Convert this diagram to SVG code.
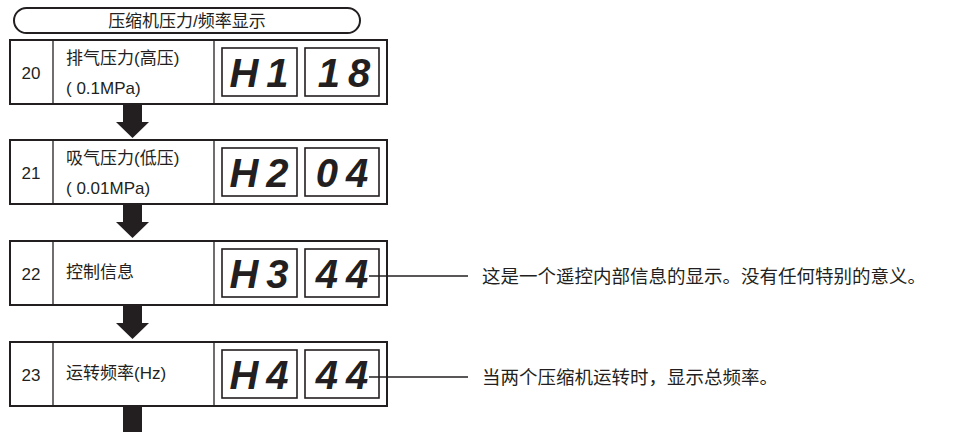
<svg xmlns="http://www.w3.org/2000/svg" width="956" height="432" viewBox="0 0 956 432">
<style>
.box{fill:#fff;stroke:#231f20;stroke-width:2}
.disp{fill:#fff;stroke:#231f20;stroke-width:1.6}
.t{font-family:"Liberation Sans","Noto Sans CJK SC",sans-serif;font-size:17px;fill:#231f20}
.r{font-size:18.5px}
.seg{font-family:"Liberation Sans",sans-serif;font-weight:bold;font-style:italic;font-size:40px;letter-spacing:8px;fill:#231f20}
.arr{fill:#231f20}
.ln{stroke:#231f20;stroke-width:1.3;fill:none}
</style>
<rect x="14" y="8" width="346" height="25" rx="12.5" class="box"/>
<text x="187" y="27" text-anchor="middle" class="t">压缩机压力/频率显示</text>
<g id="n20">
<rect x="10" y="40" width="377" height="64" class="box"/>
<line x1="53" y1="40" x2="53" y2="104" class="ln" stroke-width="2"/>
<line x1="214" y1="40" x2="214" y2="104" class="ln" stroke-width="2"/>
<text x="31" y="79" text-anchor="middle" class="t">20</text>
<text x="66" y="64" class="t">排气压力(高压)</text>
<text x="66" y="94" class="t">( 0.1MPa)</text>
<rect x="222" y="48" width="75" height="48" class="disp"/><rect x="305" y="48" width="74" height="48" class="disp"/>
<text x="263" y="87" text-anchor="middle" class="seg">H1</text>
<text x="348" y="87" text-anchor="middle" class="seg">18</text>
</g>
<g id="n21">
<rect x="10" y="140" width="377" height="64" class="box"/>
<line x1="53" y1="140" x2="53" y2="204" class="ln" stroke-width="2"/>
<line x1="214" y1="140" x2="214" y2="204" class="ln" stroke-width="2"/>
<text x="31" y="179" text-anchor="middle" class="t">21</text>
<text x="66" y="164" class="t">吸气压力(低压)</text>
<text x="66" y="194" class="t">( 0.01MPa)</text>
<rect x="222" y="148" width="75" height="48" class="disp"/><rect x="305" y="148" width="74" height="48" class="disp"/>
<text x="263" y="187" text-anchor="middle" class="seg">H2</text>
<text x="346" y="187" text-anchor="middle" class="seg">04</text>
</g>
<g id="n22">
<rect x="10" y="241" width="377" height="64" class="box"/>
<line x1="53" y1="241" x2="53" y2="305" class="ln" stroke-width="2"/>
<line x1="214" y1="241" x2="214" y2="305" class="ln" stroke-width="2"/>
<text x="31" y="280" text-anchor="middle" class="t">22</text>
<text x="66" y="278" class="t">控制信息</text>
<rect x="222" y="249" width="75" height="48" class="disp"/><rect x="305" y="249" width="74" height="48" class="disp"/>
<text x="263" y="288" text-anchor="middle" class="seg">H3</text>
<text x="346" y="288" text-anchor="middle" class="seg">44</text>
</g>
<g id="n23">
<rect x="10" y="342" width="377" height="64" class="box"/>
<line x1="53" y1="342" x2="53" y2="406" class="ln" stroke-width="2"/>
<line x1="214" y1="342" x2="214" y2="406" class="ln" stroke-width="2"/>
<text x="31" y="381" text-anchor="middle" class="t">23</text>
<text x="66" y="379" class="t">运转频率(Hz)</text>
<rect x="222" y="350" width="75" height="48" class="disp"/><rect x="305" y="350" width="74" height="48" class="disp"/>
<text x="263" y="389" text-anchor="middle" class="seg">H4</text>
<text x="346" y="389" text-anchor="middle" class="seg">44</text>
</g>
<g id="connectors">
<polygon class="arr" points="123,105 142,105 142,122 149,122 132.5,138 116,122 123,122"/>
<polygon class="arr" points="123,205 142,205 142,222 149,222 132.5,238 116,222 123,222"/>
<polygon class="arr" points="123,306 142,306 142,323 149,323 132.5,339 116,323 123,323"/>
<polygon class="arr" points="123,407 142,407 142,432 123,432"/>
<line class="ln" x1="369" y1="276" x2="468" y2="276"/>
<line class="ln" x1="369" y1="377" x2="468" y2="377"/>
</g>
<text x="482" y="283" class="t r">这是一个遥控内部信息的显示。没有任何特别的意义。</text>
<text x="482" y="384" class="t r">当两个压缩机运转时，显示总频率。</text>
</svg>
